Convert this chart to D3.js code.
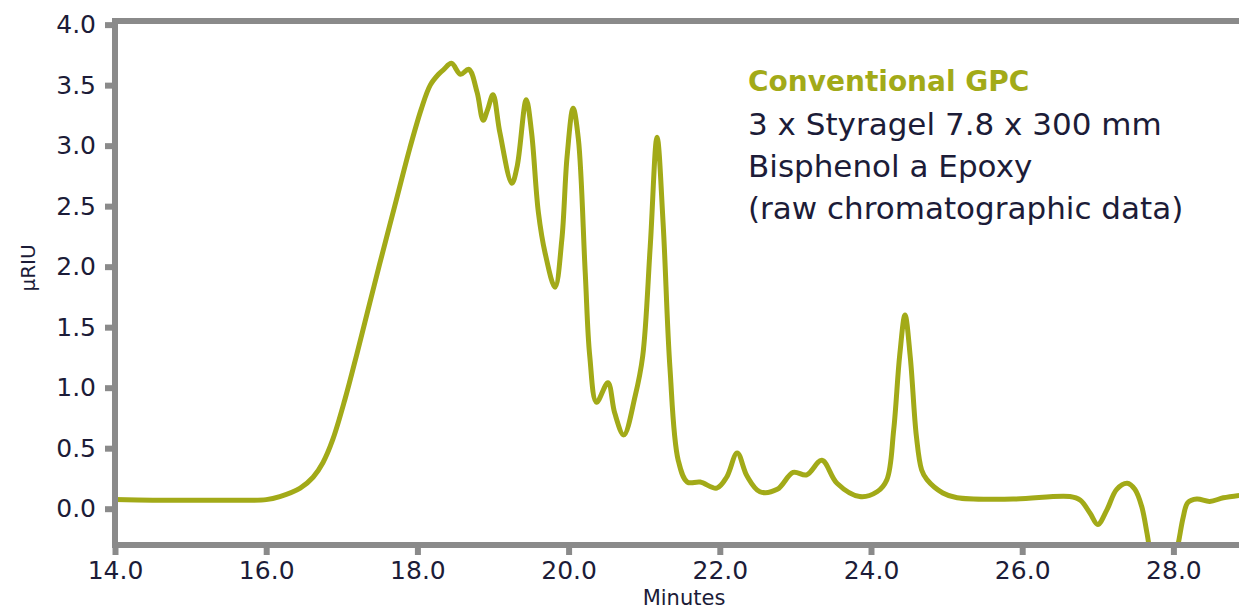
<!DOCTYPE html>
<html>
<head>
<meta charset="utf-8">
<script src="https://cdn.jsdelivr.net/npm/d3@7"></script>
<style>
  body { margin: 0; background: #fff; }
  svg { display: block; font-family: "DejaVu Sans", sans-serif; }
</style>
</head>
<body>
<script>
// chromatogram: retention time (minutes) vs detector signal (µRIU)
const minutes = [
  14.0, 14.5, 15.0, 15.5, 16.0, 16.18, 16.45, 16.62, 16.75, 16.88, 17.04, 17.2, 17.37, 17.5,
  17.7, 17.9, 18.05, 18.17, 18.28, 18.35, 18.45, 18.57, 18.68, 18.79, 18.87, 18.93, 19.0,
  19.09, 19.25, 19.32, 19.44, 19.51, 19.6, 19.69, 19.82, 19.91, 19.98, 20.06, 20.13, 20.22,
  20.28, 20.37, 20.52, 20.61, 20.73, 20.88, 20.98, 21.08, 21.17, 21.25, 21.34, 21.45, 21.57,
  21.74, 21.96, 22.09, 22.23, 22.36, 22.53, 22.76, 22.97, 23.15, 23.35, 23.55, 23.85, 24.08,
  24.21, 24.3, 24.38, 24.45, 24.52, 24.6, 24.67, 24.74, 24.95, 25.14, 25.88, 26.63, 26.77,
  26.9, 27.0, 27.12, 27.25, 27.39, 27.49, 27.58, 27.65, 27.72, 27.85, 27.98, 28.06, 28.13,
  28.19, 28.31, 28.48, 28.66, 28.87
];
const signal = [
  0.075, 0.07, 0.07, 0.07, 0.075, 0.10, 0.17, 0.26, 0.38, 0.57, 0.90, 1.28, 1.70, 2.02,
  2.50, 2.98, 3.30, 3.50, 3.59, 3.63, 3.68, 3.59, 3.63, 3.44, 3.21, 3.30, 3.42,
  3.11, 2.69, 2.83, 3.38, 3.11, 2.45, 2.11, 1.83, 2.22, 2.91, 3.31, 3.05, 1.95,
  1.26, 0.88, 1.04, 0.79, 0.61, 0.93, 1.26, 2.17, 3.07, 2.36, 1.17, 0.40, 0.22,
  0.22, 0.17, 0.26, 0.46, 0.27, 0.14, 0.16, 0.30, 0.28, 0.40, 0.21, 0.10, 0.14,
  0.24, 0.65, 1.27, 1.60, 1.25, 0.60, 0.32, 0.24, 0.13, 0.09, 0.08, 0.10, 0.07,
  -0.04, -0.13, -0.01, 0.16, 0.21, 0.16, 0.02, -0.2, -0.45, -0.7, -0.5, -0.3, -0.07,
  0.05, 0.08, 0.06, 0.09, 0.11
];
const xTicks = [14, 16, 18, 20, 22, 24, 26, 28];
const yTicks = [0, 0.5, 1, 1.5, 2, 2.5, 3, 3.5, 4];
const noteTitle = "Conventional GPC";
const noteLines = ["3 x Styragel 7.8 x 300 mm", "Bisphenol a Epoxy", "(raw chromatographic data)"];

const width = 1239, height = 610;
const plotLeft = 115, plotTop = 21, plotBottom = 545;
const olive = "#a2aa18", grey = "#8a8a8a", ink = "#1c1c38";

const x = d3.scaleLinear().domain([14, 29]).range([plotLeft, plotLeft + 15 * 75.6]);
const y = d3.scaleLinear().domain([-0.3, 4.03]).range([plotBottom, plotTop]);

const svg = d3.select("body").append("svg")
  .attr("width", width)
  .attr("height", height);

svg.append("defs").append("clipPath").attr("id", "plot")
  .append("rect")
  .attr("x", plotLeft).attr("y", plotTop)
  .attr("width", width - plotLeft).attr("height", plotBottom - plotTop);

const data = minutes.map((t, i) => ({t: t, v: signal[i]}));

const line = d3.line()
  .x(d => x(d.t))
  .y(d => y(d.v))
  .curve(d3.curveCatmullRom.alpha(0.5));

svg.append("path")
  .datum(data)
  .attr("clip-path", "url(#plot)")
  .attr("fill", "none")
  .attr("stroke", olive)
  .attr("stroke-width", 5)
  .attr("stroke-linejoin", "round")
  .attr("d", line);

// frame: top border plus the two axes
svg.append("line")
  .attr("x1", plotLeft - 3).attr("x2", width)
  .attr("y1", plotTop).attr("y2", plotTop)
  .attr("stroke", grey).attr("stroke-width", 6);

const yAxis = svg.append("g")
  .attr("transform", `translate(${plotLeft},0)`)
  .call(d3.axisLeft(y).tickValues(yTicks).tickFormat(d3.format(".1f"))
    .tickSize(10).tickSizeOuter(0).tickPadding(9));

const xAxis = svg.append("g")
  .attr("transform", `translate(0,${plotBottom})`)
  .call(d3.axisBottom(x).tickValues(xTicks).tickFormat(d3.format(".1f"))
    .tickSize(10).tickSizeOuter(0).tickPadding(6));

[yAxis, xAxis].forEach(g => {
  g.select(".domain").attr("stroke", grey).attr("stroke-width", 6);
  g.selectAll(".tick line").attr("stroke", grey).attr("stroke-width", 6);
  g.selectAll(".tick text")
    .attr("fill", ink)
    .style("font-size", "25px")
    .style("font-family", "DejaVu Sans, sans-serif");
});
yAxis.select(".domain").attr("d", `M0,${plotTop - 3}V${plotBottom + 3}`);
xAxis.select(".domain").attr("d", `M${plotLeft - 3},0H${width}`);

svg.append("text")
  .attr("x", 684).attr("y", 605)
  .attr("text-anchor", "middle")
  .attr("fill", ink)
  .style("font-size", "21px")
  .text("Minutes");

svg.append("text")
  .attr("transform", "translate(35,268) rotate(-90)")
  .attr("text-anchor", "middle")
  .attr("fill", ink)
  .style("font-size", "20px")
  .text("µRIU");

// annotation block
svg.append("text")
  .attr("x", 748).attr("y", 91)
  .attr("fill", olive)
  .style("font-size", "28px")
  .style("font-weight", "bold")
  .text(noteTitle);

svg.selectAll(".note")
  .data(noteLines)
  .enter().append("text")
  .attr("class", "note")
  .attr("x", 748)
  .attr("y", (d, i) => 135 + i * 42)
  .attr("fill", ink)
  .style("font-size", "31px")
  .text(d => d);
</script>
</body>
</html>
